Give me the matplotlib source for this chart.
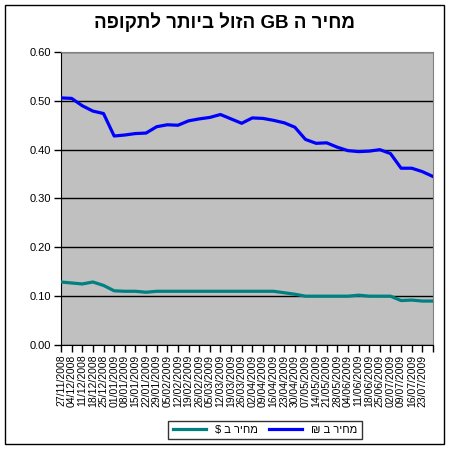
import matplotlib.pyplot as plt
import matplotlib.patches as mpatches
import numpy as np
import pandas as pd

plt.rcParams['font.family'] = ['Liberation Sans', 'DejaVu Sans']

# weekly labels, 27/11/2008 .. 23/07/2009
dates = pd.date_range('2008-11-27', periods=35, freq='7D').strftime('%d/%m/%Y').tolist()

# at each weekly tick (last value is the right edge)
price_ils = [0.506, 0.505, 0.490, 0.479, 0.474, 0.428, 0.430, 0.433, 0.434, 0.447,
             0.451, 0.450, 0.459, 0.463, 0.466, 0.472, 0.463, 0.454, 0.465, 0.464,
             0.460, 0.455, 0.446, 0.421, 0.413, 0.414, 0.405, 0.398, 0.396, 0.397,
             0.400, 0.392, 0.362, 0.362, 0.355, 0.345]
price_usd = [0.129, 0.127, 0.125, 0.129, 0.122, 0.111, 0.110, 0.110, 0.108, 0.110,
             0.110, 0.110, 0.110, 0.110, 0.110, 0.110, 0.110, 0.110, 0.110, 0.110,
             0.110, 0.107, 0.104, 0.100, 0.100, 0.100, 0.100, 0.100, 0.102, 0.100,
             0.100, 0.100, 0.091, 0.092, 0.090, 0.090]

# hebrew strings written in visual order (matplotlib has no bidi)
title = 'הפוקתל רתויב לוזה GB ה ריחמ'
label_usd = '$ ב ריחמ'
label_ils = '₪ ב ריחמ'

fig = plt.figure(figsize=(4.5, 4.5), dpi=100)
fig.patch.set_facecolor('white')
fig.patches.append(mpatches.Rectangle((5 / 450, 6 / 450), 439 / 450, 439 / 450,
                                      transform=fig.transFigure, fill=False,
                                      edgecolor='black', linewidth=1))

ax = fig.add_axes([61 / 450, 1 - 345 / 450, (433 - 61) / 450, (345 - 52) / 450])
ax.set_facecolor('#C0C0C0')

x = np.arange(len(price_ils))
ax.plot(x, price_usd, color='#008080', linewidth=2.3, label=label_usd, zorder=3)
ax.plot(x, price_ils, color='#0000FF', linewidth=2.3, label=label_ils, zorder=3)

ax.set_xlim(0, 35)
ax.set_ylim(0, 0.6)
ax.set_yticks(np.arange(0, 0.61, 0.1))
ax.set_yticklabels(['%.2f' % v for v in np.arange(0, 0.61, 0.1)], fontsize=8)
ax.set_xticks(np.arange(0, 36))
ax.set_xticklabels(dates + [''], rotation=90, fontsize=7.5)
ax.tick_params(axis='both', direction='out', length=5, width=1, color='black', pad=2)
ax.yaxis.grid(True, color='black', linewidth=1)
ax.set_axisbelow(True)

for side in ['top', 'right']:
    ax.spines[side].set_color('#808080')
ax.spines['left'].set_color('black')
ax.spines['bottom'].set_color('black')

fig.text(0.5, 1 - 22 / 450, title, ha='center', va='center', fontsize=13.5, fontweight='bold')

leg = fig.legend(loc='center', bbox_to_anchor=(265 / 450, 1 - 430 / 450), ncol=2,
                 fontsize=8, frameon=True, fancybox=False, edgecolor='black',
                 handlelength=3.0, columnspacing=1.0, borderpad=0.4)
leg.get_frame().set_linewidth(1)

plt.savefig('out.png', dpi=100)
